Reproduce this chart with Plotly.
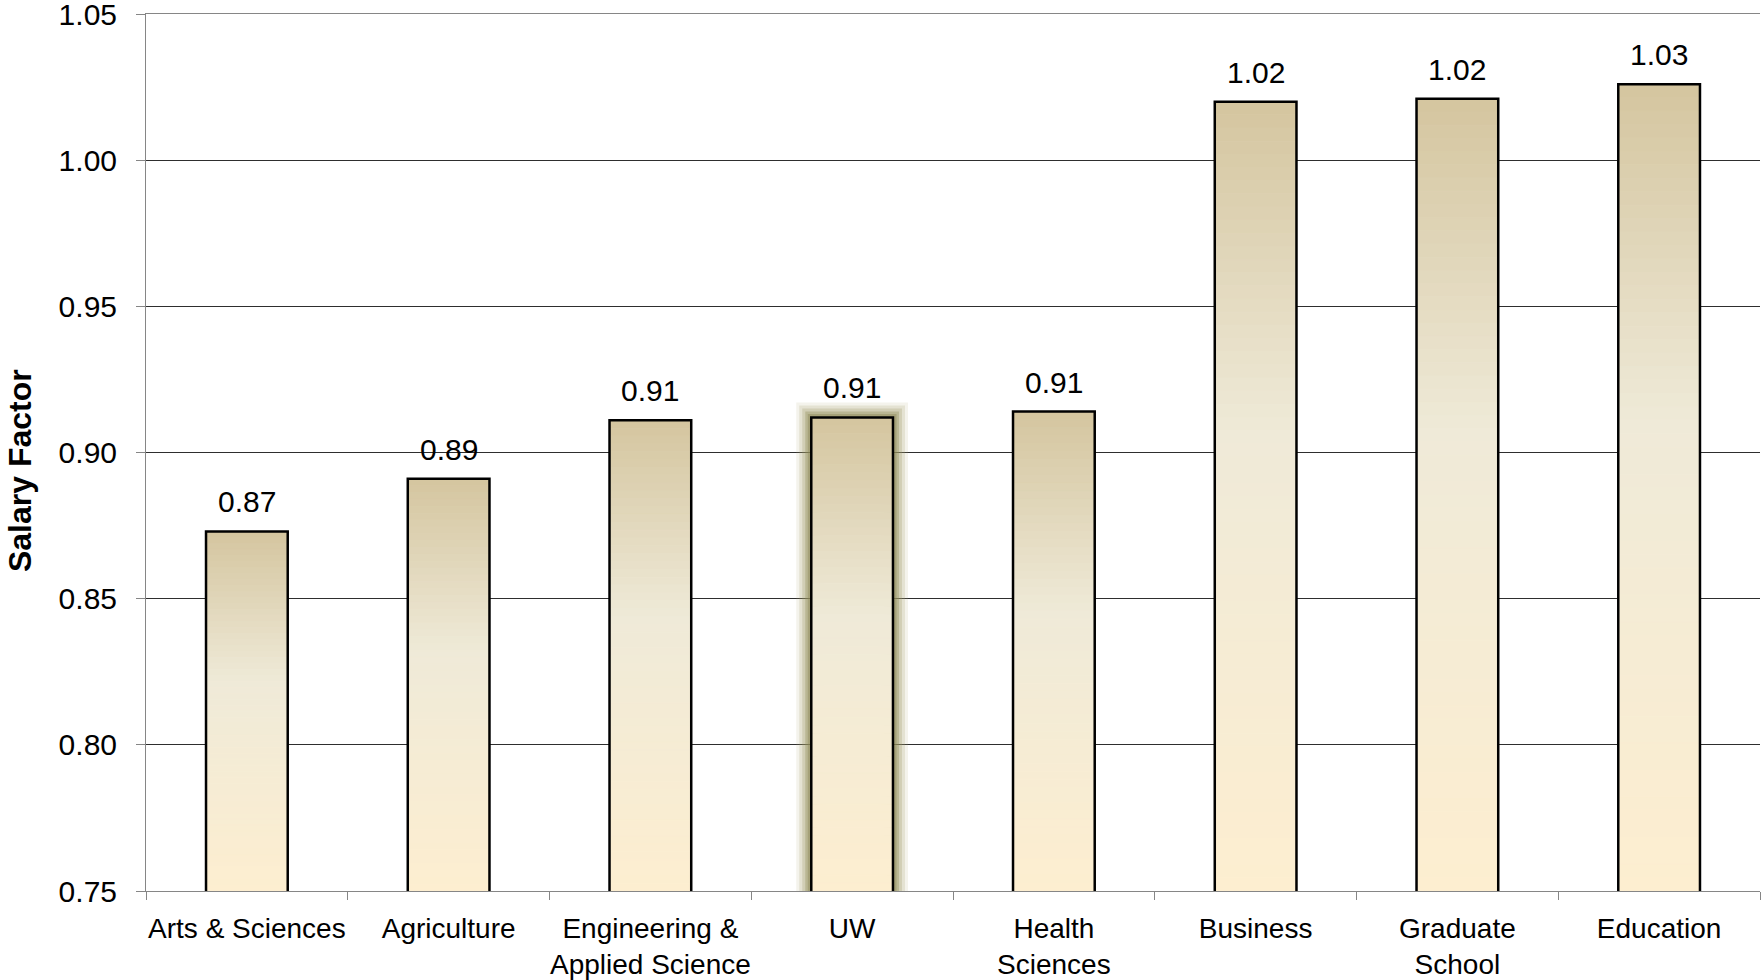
import plotly.graph_objects as go

categories = ["Arts & Sciences", "Agriculture", "Engineering &<br>Applied Science", "UW",
              "Health<br>Sciences", "Business", "Graduate<br>School", "Education"]
values = [0.873, 0.891, 0.911, 0.912, 0.914, 1.020, 1.021, 1.026]
highlight = "UW"
y_ticks = [0.75, 0.80, 0.85, 0.90, 0.95, 1.00, 1.05]

Y_MIN, Y_MAX = 0.75, 1.05
BAR_W = 0.405
FONT = "Liberation Sans, Arial, sans-serif"

# gradient stops from bar top (0) to bar bottom (1)
grad_stops = [(0.0, (212, 197, 159)), (0.42, (239, 234, 216)), (1.0, (253, 238, 208))]


def grad_color(t):
    for (t0, c0), (t1, c1) in zip(grad_stops[:-1], grad_stops[1:]):
        if t0 <= t <= t1:
            f = (t - t0) / (t1 - t0)
            c = [round(a + (b - a) * f) for a, b in zip(c0, c1)]
            return "rgb(%d,%d,%d)" % tuple(c)
    return "rgb(%d,%d,%d)" % grad_stops[-1][1]


fig = go.Figure()

# glow behind the highlighted bar
hl_vals = [v if c == highlight else None for c, v in zip(categories, values)]
for lw, col in [(30, "rgba(175,170,120,0.14)"), (24, "rgba(165,160,110,0.20)"),
                (18, "rgba(155,150,100,0.26)"), (12, "rgba(145,140,90,0.36)"),
                (7, "rgba(135,130,80,0.40)")]:
    fig.add_trace(go.Bar(x=categories, y=hl_vals, width=BAR_W,
                         marker=dict(color="rgba(0,0,0,0)", line=dict(color=col, width=lw)),
                         hoverinfo="skip", showlegend=False))

# gradient fill drawn as thin stacked slices of each bar
N = 60
for j in range(N):
    t = (j + 0.5) / N          # position from top
    base = [v - (j + 1) / N * (v - Y_MIN) for v in values]
    height = [(v - Y_MIN) / N for v in values]
    col = grad_color(t)
    fig.add_trace(go.Bar(x=categories, y=height, base=base, width=BAR_W,
                         marker=dict(color=col, line=dict(color=col, width=1)),
                         hoverinfo="skip", showlegend=False))

# outline bars carrying the data
fig.add_trace(go.Bar(x=categories, y=values, width=BAR_W, name="Salary Factor",
                     marker=dict(color="rgba(0,0,0,0)", line=dict(color="#000000", width=2.5)),
                     showlegend=False))

for c, v in zip(categories, values):
    fig.add_annotation(x=c, y=v, text=f"{v:.2f}", showarrow=False, yanchor="bottom",
                       yshift=11, font=dict(family=FONT, size=30, color="#000000"))

fig.add_annotation(xref="paper", yref="paper", x=-0.078, y=0.479, text="<b>Salary Factor</b>",
                   textangle=-90, showarrow=False, xanchor="center", yanchor="middle",
                   font=dict(family=FONT, size=32, color="#000000"))

fig.update_layout(
    width=1761, height=980,
    margin=dict(l=146, r=1, t=14, b=89, autoexpand=False),
    barmode="overlay",
    plot_bgcolor="white", paper_bgcolor="white",
    font=dict(family=FONT, color="#000000"),
    xaxis=dict(type="category", tickson="boundaries", ticks="outside", ticklen=8,
               tickcolor="#868686", showline=True, linecolor="#868686", linewidth=1,
               mirror=True, automargin=False, tickangle=0, ticklabelstandoff=12,
               showgrid=False, range=[-0.5, len(categories) - 0.5],
               tickfont=dict(family=FONT, size=28, color="#000000")),
    yaxis=dict(range=[Y_MIN, Y_MAX], tickvals=y_ticks, tickformat=".2f",
               ticks="outside", ticklen=9, tickcolor="#868686",
               showline=True, linecolor="#868686", linewidth=1, automargin=False,
               showgrid=True, gridcolor="#2e2e2e", gridwidth=1, zeroline=False,
               ticklabelstandoff=13, ticklabeloverflow="allow",
               tickfont=dict(family=FONT, size=30, color="#000000")),
)

fig.write_html("out.html", config={"displayModeBar": False},
               post_script="document.body.style.margin='0';")
